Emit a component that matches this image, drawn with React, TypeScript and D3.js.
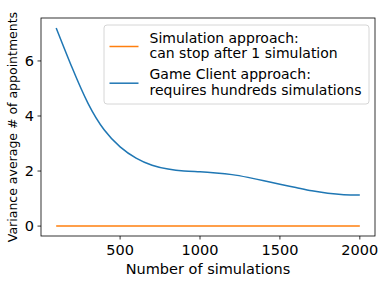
import React, { useEffect, useRef } from "react";
import * as d3 from "d3";

const simulations = [100, 200, 300, 400, 500, 600, 700, 800, 900, 1000, 1100, 1200, 1300, 1400, 1500, 1600, 1700, 1800, 1900, 2000];
const gameClientVariance = [7.2, 5.75, 4.45, 3.5, 2.88, 2.47, 2.21, 2.07, 2.0, 1.97, 1.93, 1.87, 1.77, 1.65, 1.52, 1.4, 1.28, 1.19, 1.14, 1.13];
const simulationVariance = simulations.map(() => 0);
const xTicks = [500, 1000, 1500, 2000];
const yTicks = [0, 2, 4, 6];
const legendLabels = [
  ["Simulation approach:", "can stop after 1 simulation"],
  ["Game Client approach:", "requires hundreds simulations"],
];
const colors = ["#ff7f0e", "#1f77b4"];

const W = 386, H = 284;
const font = "DejaVu Sans, sans-serif";

export default function App() {
  const ref = useRef<SVGSVGElement>(null);

  useEffect(() => {
    const svg = d3.select(ref.current);
    svg.selectAll("*").remove();

    const left = 41, right = 375, top = 18, bottom = 236;
    const x = d3.scaleLinear().domain([5, 2095]).range([left, right]);
    const y = d3.scaleLinear().domain([-0.36, 7.56]).range([bottom, top]);

    const line = d3.line<[number, number]>()
      .x(d => x(d[0]))
      .y(d => y(d[1]))
      .curve(d3.curveNatural);

    const series = [simulationVariance, gameClientVariance];
    series.forEach((vals, i) => {
      svg.append("path")
        .datum(simulations.map((s, j) => [s, vals[j]] as [number, number]))
        .attr("d", line)
        .attr("fill", "none")
        .attr("stroke", colors[i])
        .attr("stroke-width", 1.5);
    });

    // frame
    svg.append("rect")
      .attr("x", left).attr("y", top)
      .attr("width", right - left).attr("height", bottom - top)
      .attr("fill", "none").attr("stroke", "#000").attr("stroke-width", 0.8);

    // x ticks
    xTicks.forEach(t => {
      svg.append("line")
        .attr("x1", x(t)).attr("x2", x(t))
        .attr("y1", bottom).attr("y2", bottom + 3.5)
        .attr("stroke", "#000").attr("stroke-width", 0.8);
      svg.append("text")
        .attr("x", x(t)).attr("y", bottom + 19)
        .attr("text-anchor", "middle")
        .attr("font-family", font).attr("font-size", 14.5)
        .text(t);
    });

    yTicks.forEach(t => {
      svg.append("line")
        .attr("x1", left - 3.5).attr("x2", left)
        .attr("y1", y(t)).attr("y2", y(t))
        .attr("stroke", "#000").attr("stroke-width", 0.8);
      svg.append("text")
        .attr("x", left - 7).attr("y", y(t))
        .attr("dy", "0.36em")
        .attr("text-anchor", "end")
        .attr("font-family", font).attr("font-size", 14.5)
        .text(t);
    });

    svg.append("text")
      .attr("x", (left + right) / 2).attr("y", 274)
      .attr("text-anchor", "middle")
      .attr("font-family", font).attr("font-size", 14.5)
      .text("Number of simulations");

    svg.append("text")
      .attr("transform", `translate(17,${(top + bottom) / 2}) rotate(-90)`)
      .attr("text-anchor", "middle")
      .attr("font-family", font).attr("font-size", 12.5)
      .text("Variance average # of appointments");

    // legend
    const lg = svg.append("g");
    lg.append("rect")
      .attr("x", 104).attr("y", 25)
      .attr("width", 265).attr("height", 79)
      .attr("rx", 3)
      .attr("fill", "#fff").attr("fill-opacity", 0.8)
      .attr("stroke", "#ccc").attr("stroke-width", 0.8);
    legendLabels.forEach((lines, i) => {
      const cy = 46.5 + i * 36.7;
      lg.append("line")
        .attr("x1", 109.5).attr("x2", 138.5)
        .attr("y1", cy).attr("y2", cy)
        .attr("stroke", colors[i]).attr("stroke-width", 1.5);
      lines.forEach((t, k) => {
        lg.append("text")
          .attr("x", 149.5).attr("y", cy - 4 + k * 15.5)
          .attr("font-family", font).attr("font-size", 14)
          .text(t);
      });
    });
  }, []);

  return (
    <div style={{ position: "absolute", left: 0, top: 0 }}>
      <svg ref={ref} width={W} height={H} style={{ display: "block", background: "#fff" }} />
    </div>
  );
}
